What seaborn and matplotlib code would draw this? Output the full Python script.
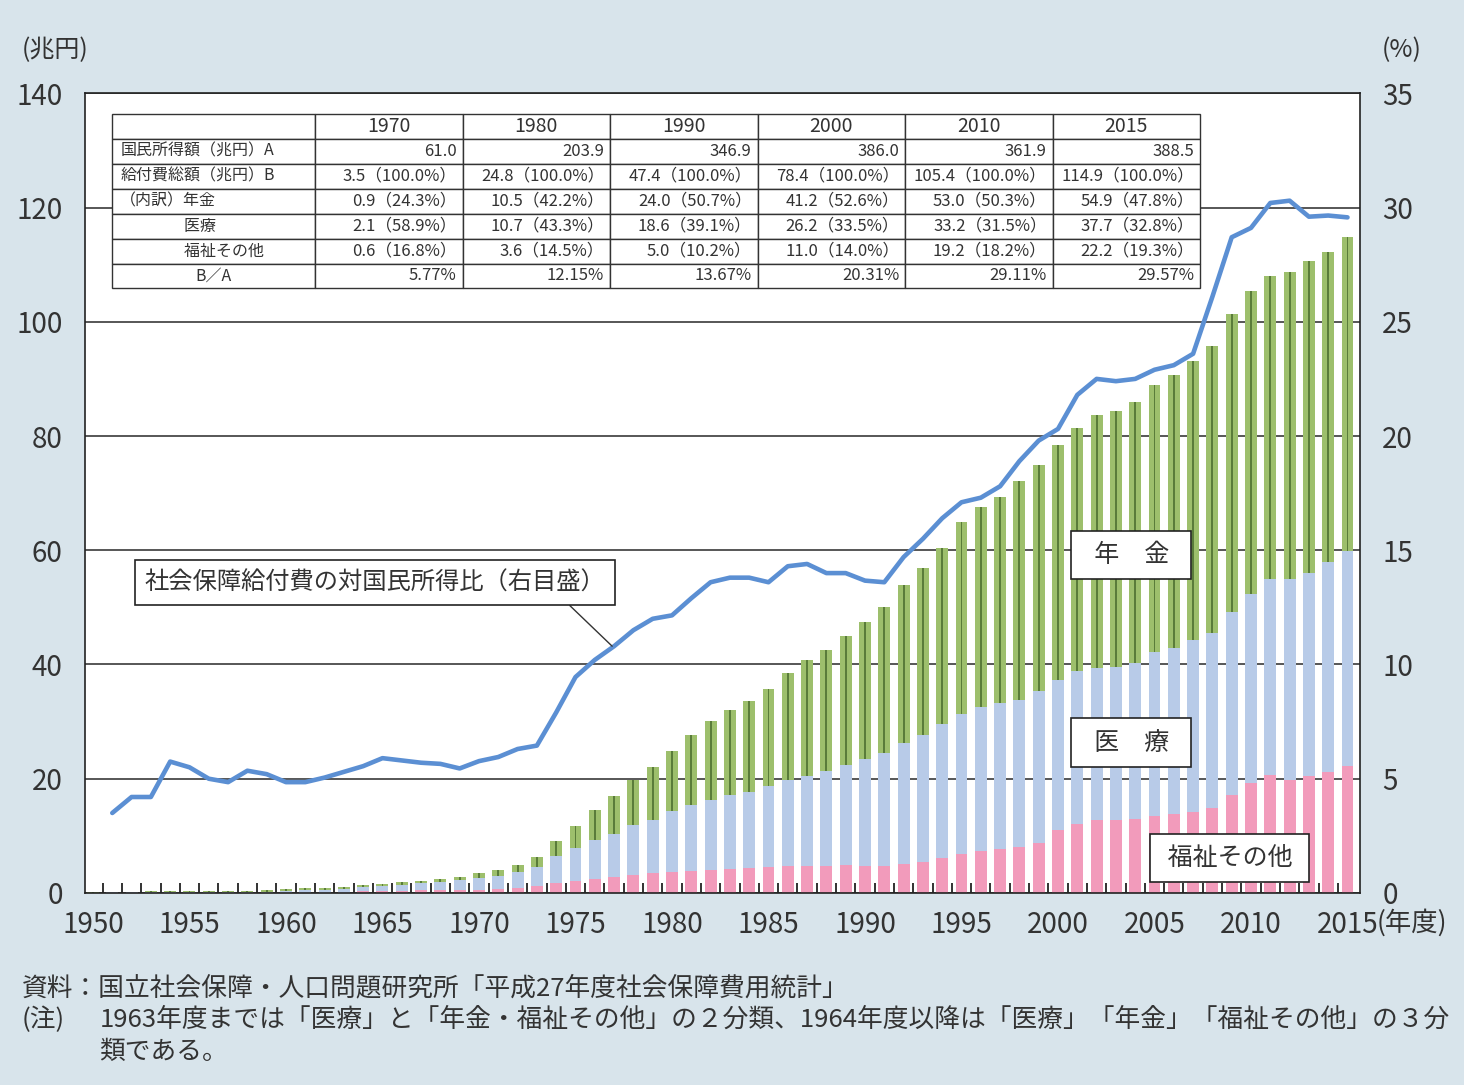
import numpy as np
import pandas as pd
import matplotlib
matplotlib.use('Agg')
import matplotlib.pyplot as plt
import seaborn as sns

# 年度 1950-2015 (兆円)
years = list(range(1950, 2016))
welfare = [0, 0, 0, 0, 0, 0, 0, 0, 0, 0, 0, 0, 0, 0,
           0.29, 0.34, 0.39, 0.43, 0.49, 0.54, 0.59, 0.71, 0.83, 1.17, 1.75, 2.18,
           2.48, 2.78, 3.20, 3.42, 3.62, 3.92, 4.08, 4.20, 4.41, 4.50, 4.64, 4.68,
           4.77, 4.94, 4.8, 4.8, 5.1, 5.5, 6.2, 6.9, 7.4, 7.7, 8.0, 8.8, 11.0,
           12.0, 12.8, 12.8, 13.0, 13.5, 13.8, 14.2, 14.8, 17.2, 19.2, 20.6, 19.8,
           20.5, 21.1, 22.2]
medical = [0.06, 0.08, 0.10, 0.13, 0.15, 0.17, 0.18, 0.19, 0.22, 0.25, 0.35, 0.44,
           0.54, 0.66, 0.76, 0.92, 1.07, 1.25, 1.46, 1.69, 2.06, 2.29, 2.82, 3.43,
           4.67, 5.71, 6.80, 7.58, 8.72, 9.36, 10.74, 11.48, 12.28, 12.89, 13.34,
           14.29, 15.06, 15.88, 16.56, 17.53, 18.6, 19.7, 21.1, 22.1, 23.3, 24.4,
           25.2, 25.6, 25.8, 26.5, 26.2, 26.8, 26.5, 26.8, 27.3, 28.6, 29.0, 30.0,
           30.7, 32.0, 33.2, 34.3, 35.2, 35.5, 36.8, 37.7]
pension = [0.07, 0.08, 0.11, 0.13, 0.15, 0.17, 0.17, 0.18, 0.20, 0.22, 0.30, 0.35,
           0.40, 0.47, 0.28, 0.34, 0.40, 0.47, 0.55, 0.65, 0.87, 1.03, 1.28, 1.62,
           2.60, 3.88, 5.31, 6.54, 7.86, 9.20, 10.47, 12.19, 13.69, 14.86, 15.88,
           16.89, 18.80, 20.17, 21.18, 22.55, 24.02, 25.6, 27.63, 29.23, 30.97,
           33.6, 34.9, 36.1, 38.3, 39.7, 41.2, 42.6, 44.3, 44.7, 45.7, 46.8, 47.9,
           48.9, 50.2, 52.1, 53.0, 53.2, 53.8, 54.6, 54.3, 54.9]

# 社会保障給付費の対国民所得比 (%), 1951-2015
ratio_years = list(range(1951, 2016))
ratio = [3.5, 4.2, 4.2, 5.75, 5.5, 5.0, 4.85, 5.35, 5.2, 4.85, 4.85, 5.05, 5.3,
         5.55, 5.9, 5.8, 5.7, 5.65, 5.45, 5.77, 5.95, 6.3, 6.45, 7.9, 9.45, 10.2,
         10.8, 11.5, 12.0, 12.15, 12.9, 13.6, 13.8, 13.8, 13.6, 14.3, 14.4, 14.0,
         14.0, 13.67, 13.6, 14.7, 15.5, 16.4, 17.1, 17.3, 17.8, 18.9, 19.8, 20.31,
         21.8, 22.5, 22.4, 22.5, 22.9, 23.1, 23.6, 26.1, 28.7, 29.11, 30.2, 30.3,
         29.6, 29.65, 29.57]

# table
table_years = ['1970', '1980', '1990', '2000', '2010', '2015']
income_a = [61.0, 203.9, 346.9, 386.0, 361.9, 388.5]
benefit_b = [3.5, 24.8, 47.4, 78.4, 105.4, 114.9]
pension_t = [0.9, 10.5, 24.0, 41.2, 53.0, 54.9]
pension_p = [24.3, 42.2, 50.7, 52.6, 50.3, 47.8]
medical_t = [2.1, 10.7, 18.6, 26.2, 33.2, 37.7]
medical_p = [58.9, 43.3, 39.1, 33.5, 31.5, 32.8]
welfare_t = [0.6, 3.6, 5.0, 11.0, 19.2, 22.2]
welfare_p = [16.8, 14.5, 10.2, 14.0, 18.2, 19.3]
ba_ratio = [5.77, 12.15, 13.67, 20.31, 29.11, 29.57]
row_labels = ['国民所得額（兆円）A', '給付費総額（兆円）B', '（内訳）年金',
              '　　　　医療', '　　　　福祉その他', 'B／A']

sns.set_theme(style='white')
plt.rcParams['font.family'] = ['Noto Sans CJK JP', 'DejaVu Sans']

BG = '#d8e4eb'
GREEN = '#9dbf6c'
DKGREEN = '#5a7c3a'
BLUE = '#b8cbe8'
PINK = '#f29bbb'
LINE = '#5b8fd3'
TXT = '#333333'

df = pd.DataFrame({'year': years, 'welfare': welfare, 'medical': medical, 'pension': pension})
df['lower'] = df['welfare']
df['mid'] = df['welfare'] + df['medical']
df['total'] = df['mid'] + df['pension']

fig = plt.figure(figsize=(14.64, 10.85), dpi=100, facecolor=BG)
ax = fig.add_axes([0.0581, 0.177, 0.8709, 0.737])
ax.set_facecolor('white')

sns.barplot(data=df, x='year', y='total', native_scale=True, width=0.62,
            color=GREEN, saturation=1, linewidth=0, ax=ax, zorder=2)
sns.barplot(data=df, x='year', y='total', native_scale=True, width=0.1,
            color=DKGREEN, saturation=1, linewidth=0, ax=ax, zorder=2)
sns.barplot(data=df, x='year', y='mid', native_scale=True, width=0.62,
            color=BLUE, saturation=1, linewidth=0, ax=ax, zorder=2)
sns.barplot(data=df, x='year', y='lower', native_scale=True, width=0.62,
            color=PINK, saturation=1, linewidth=0, ax=ax, zorder=2)

ax.set_xlim(1949.59, 2015.65)
ax.set_ylim(0, 140)
ax.set_yticks(np.arange(0, 141, 20))
ax.set_yticklabels([str(v) for v in range(0, 141, 20)], fontsize=20, color=TXT)
xt = list(range(1950, 2016, 5))
ax.set_xticks(xt)
ax.set_xticklabels([str(v) for v in xt], fontsize=20, color=TXT)
ax.set_xticks(np.arange(1950.5, 2015, 1), minor=True)
ax.tick_params(axis='x', which='major', length=0, pad=12)
ax.tick_params(axis='y', which='major', length=0, pad=16)
ax.tick_params(axis='x', which='minor', direction='in', length=7, width=1.3,
               color='#222222', bottom=True)
ax.set_xlabel('')
ax.set_ylabel('')
ax.set_axisbelow(True)
ax.yaxis.grid(True, color='#3a3a3a', linewidth=1.2)
ax.xaxis.grid(False)
for s in ax.spines.values():
    s.set_visible(True)
    s.set_color('#222222')
    s.set_linewidth(1.2)

ax2 = ax.twinx()
sns.lineplot(x=ratio_years, y=ratio, color=LINE, linewidth=3.3, ax=ax2, zorder=5)
ax2.set_ylim(0, 35)
ax2.set_yticks(np.arange(0, 36, 5))
ax2.set_yticklabels([str(v) for v in range(0, 36, 5)], fontsize=20, color=TXT)
ax2.tick_params(axis='y', length=0, pad=16)
ax2.grid(False)
for s in ax2.spines.values():
    s.set_visible(False)

# labels
fig.text(0.0376, 0.954, '(兆円)', fontsize=18, color=TXT, ha='center', va='center')
fig.text(0.9577, 0.954, '(%)', fontsize=18, color=TXT, ha='center', va='center')
ax.text(2016.5, -0.037, '(年度)', transform=ax.get_xaxis_transform(),
        fontsize=19, color=TXT, ha='left', va='center', clip_on=False)

box = dict(boxstyle='square,pad=0.45', fc='white', ec='#222222', lw=1.2)
ax.text(2003.8, 59.2, '  年　金  ', fontsize=18, ha='center', va='center',
        color=TXT, bbox=box, zorder=6)
ax.text(2003.8, 26.3, '  医　療  ', fontsize=18, ha='center', va='center',
        color=TXT, bbox=box, zorder=6)
ax.text(2008.9, 6.1, ' 福祉その他 ', fontsize=18, ha='center', va='center',
        color=TXT, bbox=box, zorder=6)

i77 = ratio_years.index(1977)
ax2.annotate('社会保障給付費の対国民所得比（右目盛）',
             xy=(1977 - 0.1, ratio[i77]), xytext=(1964.6, 13.6),
             ha='center', va='center', fontsize=17.5, color=TXT,
             bbox=dict(boxstyle='square,pad=0.4', fc='white', ec='#222222', lw=1.2),
             arrowprops=dict(arrowstyle='-', color='#333333', lw=1,
                             relpos=(0.9, 0), shrinkA=0, shrinkB=0),
             zorder=6)

# table
rows = [[''] + table_years,
        [row_labels[0]] + [f'{v:.1f}' for v in income_a],
        [row_labels[1]] + [f'{v:.1f}（{100.0:.1f}%）' for v in benefit_b],
        [row_labels[2]] + [f'{v:.1f}（{p:.1f}%）' for v, p in zip(pension_t, pension_p)],
        [row_labels[3]] + [f'{v:.1f}（{p:.1f}%）' for v, p in zip(medical_t, medical_p)],
        [row_labels[4]] + [f'{v:.1f}（{p:.1f}%）' for v, p in zip(welfare_t, welfare_p)],
        [row_labels[5]] + [f'{v:.2f}%' for v in ba_ratio]]
tbl = ax2.table(cellText=rows, colWidths=[203] + [147.5] * 6,
                bbox=[0.0212, 0.756, 0.8745 - 0.0212, 0.974 - 0.756], zorder=7)
tbl.auto_set_font_size(False)
for (r, c), cell in tbl.get_celld().items():
    cell.set_edgecolor('#333333')
    cell.set_linewidth(1.0)
    cell.set_facecolor('white')
    cell.PAD = 0.04
    t = cell.get_text()
    t.set_color(TXT)
    if r == 0:
        t.set_fontsize(14)
        t.set_ha('center')
    elif c == 0:
        t.set_fontsize(11.5)
        t.set_ha('center' if r == 6 else 'left')
    else:
        t.set_fontsize(12)
        t.set_ha('right')

# notes
NOTE = 18.5
fig.text(0.015, 0.0894, '資料：国立社会保障・人口問題研究所「平成27年度社会保障費用統計」',
         fontsize=NOTE, color=TXT, ha='left', va='center')
fig.text(0.015, 0.060, '(注)', fontsize=NOTE, color=TXT, ha='left', va='center')
fig.text(0.068, 0.060, '1963年度までは「医療」と「年金・福祉その他」の２分類、1964年度以降は「医療」「年金」「福祉その他」の３分',
         fontsize=NOTE, color=TXT, ha='left', va='center')
fig.text(0.068, 0.0304, '類である。', fontsize=NOTE, color=TXT, ha='left', va='center')

fig.savefig('out.png', dpi=100, facecolor=BG)
